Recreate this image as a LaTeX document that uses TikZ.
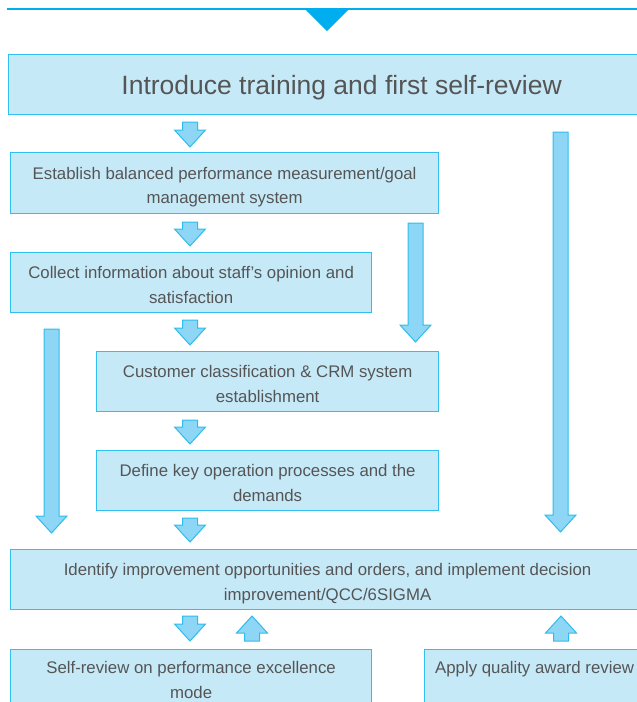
\documentclass[tikz,border=0pt]{standalone}
\usepackage{fontspec}
\setmainfont{Liberation Sans}
\definecolor{topline}{HTML}{00AEEF}
\definecolor{boxfill}{HTML}{C6E9F8}
\definecolor{boxline}{HTML}{30BFEE}
\definecolor{arrfill}{HTML}{8ED6F5}
\definecolor{arrline}{HTML}{2CBDEC}
\definecolor{txt}{HTML}{555555}
% centred lines of box text, lowered a little without changing the node size
\newcommand\boxtext[2][3.3pt]{\raisebox{-#1}[\height][\depth]{\begin{tabular}{@{}c@{}}#2\end{tabular}}}
% block arrow pointing down: centre x, top y, tip y
\newcommand\blockdown[3]{%
  \draw[barrow] ({#1-7.5},#2) -- ({#1+7.5},#2) -- ({#1+7.5},{#3-17}) -- ({#1+15.5},{#3-17})
    -- (#1,#3) -- ({#1-15.5},{#3-17}) -- ({#1-7.5},{#3-17}) -- cycle;}
% block arrow pointing up: centre x, tip y, bottom y
\newcommand\blockup[3]{%
  \draw[barrow] ({#1-7.5},#3) -- ({#1+7.5},#3) -- ({#1+7.5},{#2+17}) -- ({#1+15.5},{#2+17})
    -- (#1,#2) -- ({#1-15.5},{#2+17}) -- ({#1-7.5},{#2+17}) -- cycle;}
\begin{document}
\begin{tikzpicture}[x=1pt,y=-1pt,
  box/.style={draw=boxline, fill=boxfill, line width=1.2pt, anchor=north west,
    inner sep=0pt, align=center, text=txt, font=\fontsize{16.8}{24.6}\selectfont},
  barrow/.style={draw=arrline, fill=arrfill, line width=1pt, line join=miter}]
\useasboundingbox (0,0) rectangle (637,702);
\clip (0,0) rectangle (637,702);

% header rule with its pointer
\draw[topline, line width=1.6pt] (7,9) -- (640,9);
\fill[topline] (305,9) -- (349,9) -- (327,31) -- cycle;

% process boxes
\node[box, minimum width=666pt, minimum height=60pt, font=\fontsize{26.5}{30}\selectfont]
  (intro) at (8,54) {\boxtext[4pt]{Introduce training and first self-review}};
\node[box, minimum width=428pt, minimum height=61pt] (bsc) at (10,152)
  {\boxtext{Establish balanced performance measurement/goal\\management system}};
\node[box, minimum width=361pt, minimum height=60pt] (staff) at (10,252)
  {\boxtext{Collect information about staff’s opinion and\\satisfaction}};
\node[box, minimum width=342pt, minimum height=60pt] (crm) at (96,351)
  {\boxtext{Customer classification \& CRM system\\establishment}};
\node[box, minimum width=342pt, minimum height=60pt] (proc) at (96,450)
  {\boxtext{Define key operation processes and the\\demands}};
\node[box, minimum width=634pt, minimum height=60pt] (impr) at (10,549)
  {\boxtext[3.6pt]{Identify improvement opportunities and orders, and implement decision\\improvement/QCC/6SIGMA}};
\node[box, minimum width=361pt, minimum height=61pt] (self) at (10,649)
  {\boxtext[1pt]{Self-review on performance excellence\\mode}};
\node[box, minimum width=220pt, minimum height=61pt] (award) at (424,649)
  {\boxtext[1pt]{Apply quality award review\\\strut}};

% flow arrows between steps
\blockdown{190}{122}{147}
\blockdown{190}{222}{246}
\blockdown{190}{320}{345}
\blockdown{190}{420}{444}
\blockdown{190}{518}{542}
\blockdown{190}{616}{641}
\blockup{252}{616}{641}
\blockup{561}{616}{641}

% long bypass arrows
\blockdown{560.5}{132}{532}
\blockdown{415.5}{223}{342}
\blockdown{51.5}{329}{533}
\end{tikzpicture}
\end{document}
